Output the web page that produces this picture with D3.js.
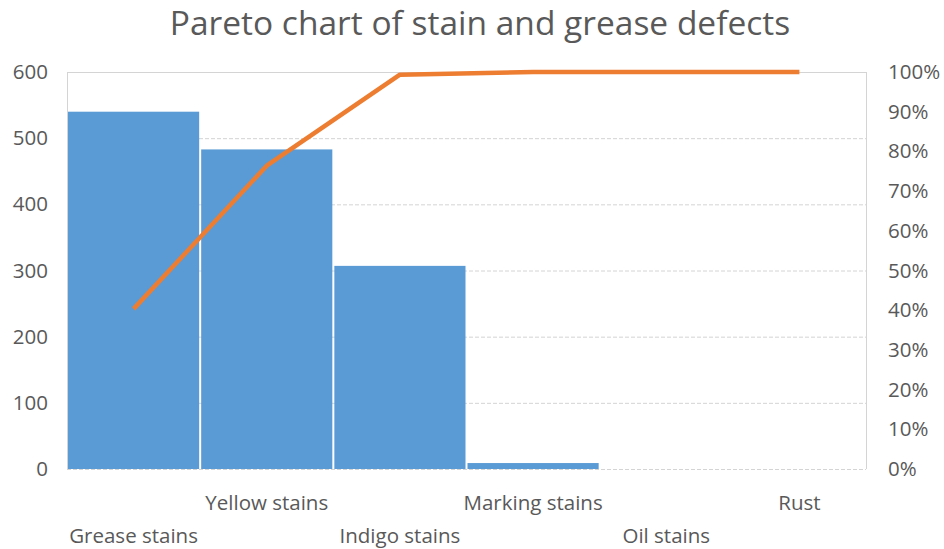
<!DOCTYPE html>
<html>
<head>
<meta charset="utf-8">
<script src="https://cdn.jsdelivr.net/npm/d3@7"></script>
<style>
  html, body { margin: 0; padding: 0; background: #fff; }
  svg text { font-family: "Open Sans", "Noto Sans", sans-serif; fill: #595959; }
</style>
</head>
<body>
<svg id="chart" width="944" height="549"></svg>
<script>
// Defect categories and their counts
const categories = ["Grease stains", "Yellow stains", "Indigo stains", "Marking stains", "Oil stains", "Rust"];
const counts = [540, 483, 307, 9, 0, 0];
const countTicks = [0, 100, 200, 300, 400, 500, 600];
const percentTicks = [0, 0.1, 0.2, 0.3, 0.4, 0.5, 0.6, 0.7, 0.8, 0.9, 1.0];

// Cumulative share of defects
const total = d3.sum(counts);
const cumulative = d3.cumsum(counts).map(v => v / total);

const svg = d3.select("#chart");
const margin = { left: 67, right: 78, top: 72, bottom: 80 };
const W = 944, H = 549;
const x0 = margin.left, x1 = W - margin.right;
const y0 = H - margin.bottom, y1 = margin.top;

const x = d3.scaleBand().domain(categories).range([x0, x1]).padding(0);
const yL = d3.scaleLinear().domain([0, 600]).range([y0, y1]);
const yR = d3.scaleLinear().domain([0, 1]).range([y0, y1]);

// Title
svg.append("text")
  .attr("x", 480).attr("y", 35)
  .attr("text-anchor", "middle")
  .style("font-size", "33.5px")
  .text("Pareto chart of stain and grease defects");

// Horizontal gridlines
svg.append("g").selectAll("line").data(countTicks).join("line")
  .attr("x1", x0).attr("x2", x1)
  .attr("y1", d => yL(d) + 0.5).attr("y2", d => yL(d) + 0.5)
  .attr("stroke", "#d4d4d4").attr("stroke-width", 1)
  .attr("stroke-dasharray", d => d === 600 ? null : "4,2");

// Side frame lines
[x0, x1].forEach(xx => {
  svg.append("line")
    .attr("x1", xx + 0.5).attr("x2", xx + 0.5)
    .attr("y1", y1).attr("y2", y0)
    .attr("stroke", "#d4d4d4").attr("stroke-width", 1);
});

// Bars
svg.append("g").selectAll("rect").data(counts).join("rect")
  .attr("x", (d, i) => x(categories[i]) + 1)
  .attr("width", x.bandwidth() - 2)
  .attr("y", d => yL(d))
  .attr("height", d => yL(0) - yL(d))
  .attr("fill", "#5B9BD5");

// Cumulative line
const line = d3.line()
  .x((d, i) => x(categories[i]) + x.bandwidth() / 2)
  .y(d => yR(d));
svg.append("path")
  .datum(cumulative)
  .attr("d", line)
  .attr("fill", "none")
  .attr("stroke", "#ED7D31")
  .attr("stroke-width", 4.5)
  .attr("stroke-linejoin", "round");

// Left axis labels
const leftAxis = d3.axisLeft(yL).tickValues(countTicks).tickSize(0).tickPadding(19);
const gL = svg.append("g").attr("transform", `translate(${x0},0)`).call(leftAxis);
gL.select(".domain").remove();
gL.selectAll("text").style("font-size", "20.5px").attr("fill", "#595959");

// Right axis labels
const rightAxis = d3.axisRight(yR).tickValues(percentTicks).tickSize(0).tickPadding(22)
  .tickFormat(d3.format(".0%"));
const gR = svg.append("g").attr("transform", `translate(${x1},0)`).call(rightAxis);
gR.select(".domain").remove();
gR.selectAll("text").style("font-size", "20.5px").attr("fill", "#595959");

// Category labels, staggered on two rows
svg.append("g").selectAll("text").data(categories).join("text")
  .attr("x", d => x(d) + x.bandwidth() / 2)
  .attr("y", (d, i) => i % 2 === 0 ? 543 : 510)
  .attr("text-anchor", "middle")
  .style("font-size", "20.5px")
  .text(d => d);
</script>
</body>
</html>
